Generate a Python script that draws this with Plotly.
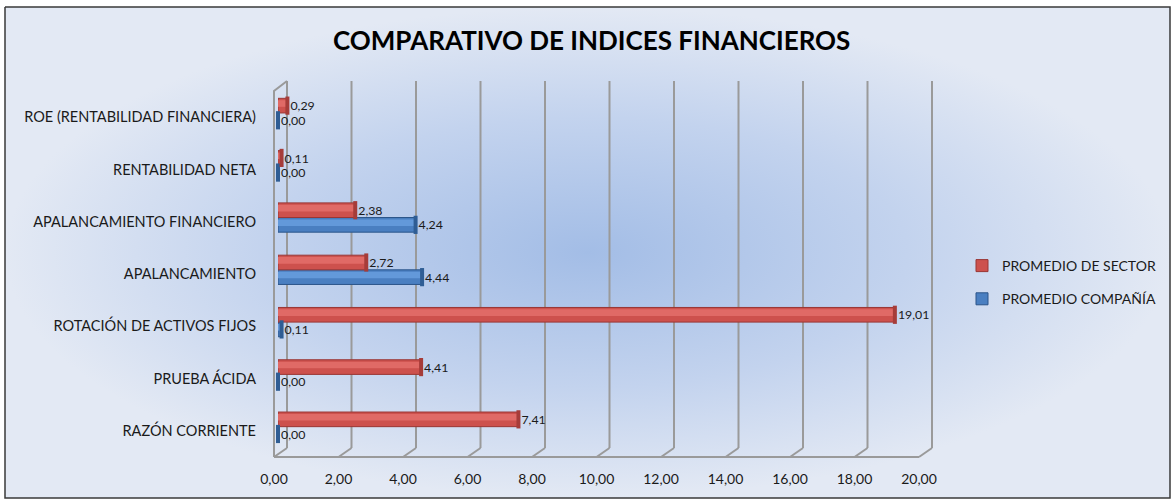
import plotly.graph_objects as go

# ---------------- data ----------------
categories = [
    "RAZÓN CORRIENTE",
    "PRUEBA ÁCIDA",
    "ROTACIÓN DE ACTIVOS FIJOS",
    "APALANCAMIENTO",
    "APALANCAMIENTO FINANCIERO",
    "RENTABILIDAD NETA",
    "ROE (RENTABILIDAD FINANCIERA)",
]
promedio_sector = [7.41, 4.41, 19.01, 2.72, 2.38, 0.11, 0.29]
promedio_compania = [0.00, 0.00, 0.11, 4.44, 4.24, 0.00, 0.00]
x_ticks = [0, 2, 4, 6, 8, 10, 12, 14, 16, 18, 20]
title_text = "COMPARATIVO DE INDICES FINANCIEROS"

# ---------------- geometry (pixels) ----------------
W, H = 1174, 499
PL, PR = 274, 919          # front floor left/right (x=0 / x=20)
PT, PB = 91, 457           # plot top / floor front
DX, DY = 13, 9             # 3-D depth offset
BAR_SHIFT = 4              # bars sit at mid depth of the 3-D box
XMAX = 20.0
FONT = "Lato"
BW = 0.28                  # bar thickness (category units)
OFF_SECTOR, OFF_COMP = 0.08, -0.20

def xpix(v):
    return PL + v * (PR - PL) / XMAX

ypos = list(range(len(categories)))

fig = go.Figure()

# background panel with radial gradient + border (on full-figure pixel axes)
bx0, bx1, by0, by1 = 5, 1170, 7, 498
fig.add_trace(go.Scatter(
    x=[bx0, bx1, bx1, bx0, bx0], y=[by0, by0, by1, by1, by0],
    mode="lines", fill="toself",
    fillgradient=dict(type="radial",
                      colorscale=[[0, "#a3bde6"], [0.55, "#c3d3ee"], [1, "#e3e9f4"]]),
    line=dict(color="#3a3a3a", width=1.5),
    hoverinfo="skip", showlegend=False, xaxis="x", yaxis="y",
))

# 3-D walls / gridlines
gx, gy = [], []
for v in x_ticks:
    fx = xpix(v)
    gx += [fx + DX, fx + DX, None]
    gy += [PT - 10, PB - DY, None]
    gx += [fx, fx + DX, None]
    gy += [PB, PB - DY, None]
gx += [PL, PR, None]
gy += [PB, PB, None]
gx += [PL, PL, PL + DX, None]
gy += [PB, PT, PT - 10, None]
fig.add_trace(go.Scatter(
    x=gx, y=gy, mode="lines", line=dict(color="#9a9a9a", width=2),
    hoverinfo="skip", showlegend=False, xaxis="x", yaxis="y",
))

# invisible anchor trace so the front (labelled) axes are drawn
fig.add_trace(go.Scatter(
    x=[0, XMAX], y=[0, len(categories) - 1], mode="markers",
    marker=dict(opacity=0, size=1), hoverinfo="skip", showlegend=False,
    xaxis="x2", yaxis="y2",
))

series = [
    # name, values, offset, base colour, edge, highlight, cap, rank, group
    ("PROMEDIO COMPAÑÍA", promedio_compania, OFF_COMP, "#4a7fc1", "#2b5589", "#6399da", "#2f5d94", 2, "b"),
    ("PROMEDIO DE SECTOR", promedio_sector, OFF_SECTOR, "#cd514d", "#993634", "#e06a66", "#a63c39", 1, "a"),
]

for name, vals, off, col, edge, hi, cap, rank, grp in series:
    # main bar
    fig.add_trace(go.Bar(
        y=ypos, x=vals, orientation="h", name=name, legendrank=rank,
        legendgroup=grp, width=BW, offset=off,
        marker=dict(color=col, line=dict(color=edge, width=1)),
        text=vals, texttemplate="%{x:.2f}", textposition="outside",
        textfont=dict(family=FONT, size=13.5, color="#1a1a1a"),
        cliponaxis=False, xaxis="x3", yaxis="y2", hoverinfo="x+name",
    ))
    # cylinder highlight
    fig.add_trace(go.Bar(
        y=ypos, x=vals, orientation="h", showlegend=False, legendgroup=grp,
        width=BW * 0.45, offset=off + BW * 0.42,
        marker=dict(color=hi, line=dict(width=0)),
        xaxis="x3", yaxis="y2", hoverinfo="skip",
    ))
    # end caps of the cylinders
    fig.add_trace(go.Scatter(
        y=[p + off + BW / 2 for p in ypos], x=vals, mode="markers",
        marker=dict(symbol="line-ns", size=13, line=dict(color=cap, width=4)),
        showlegend=False, legendgroup=grp, cliponaxis=False,
        xaxis="x3", yaxis="y2", hoverinfo="skip",
    ))

fig.update_layout(
    width=W, height=H,
    margin=dict(l=0, r=0, t=0, b=0, autoexpand=False),
    paper_bgcolor="white", plot_bgcolor="rgba(0,0,0,0)",
    separators=",.",
    barmode="overlay",
    font=dict(family=FONT, size=14, color="#1a1a1a"),
    xaxis=dict(domain=[0, 1], range=[0, W], visible=False, fixedrange=True),
    yaxis=dict(domain=[0, 1], range=[H, 0], visible=False, fixedrange=True),
    xaxis2=dict(domain=[PL / W, PR / W], range=[0, XMAX], anchor="y2",
                tickvals=x_ticks, tickformat=".2f", showgrid=False,
                zeroline=False, showline=False, ticks="",
                ticklabelstandoff=12, automargin=False,
                tickfont=dict(family=FONT, size=14, color="#1a1a1a")),
    xaxis3=dict(domain=[(PL + BAR_SHIFT) / W, (PR + BAR_SHIFT + 4) / W],
                range=[0, XMAX], anchor="y2", visible=False, automargin=False,
                showgrid=False, zeroline=False),
    yaxis2=dict(domain=[(H - PB) / H, (H - PT) / H], range=[-0.5, 6.5],
                anchor="x2", tickvals=ypos, ticktext=categories,
                showgrid=False, zeroline=False, automargin=False,
                showline=False, ticks="", ticklabelstandoff=17,
                tickfont=dict(family=FONT, size=14.5, color="#1a1a1a")),
    legend=dict(x=962 / W, y=(H - 250) / H, xanchor="left", yanchor="top",
                bgcolor="rgba(0,0,0,0)", traceorder="grouped",
                tracegroupgap=12,
                font=dict(family=FONT, size=14, color="#1a1a1a")),
    annotations=[dict(
        text="<b>" + title_text + "</b>", x=591, y=40, xref="x", yref="y",
        showarrow=False, font=dict(family=FONT, size=26, color="#000000"),
    )],
)

fig.write_html("out.html", config={"displayModeBar": False},
               post_script="document.body.style.margin='0px';")
